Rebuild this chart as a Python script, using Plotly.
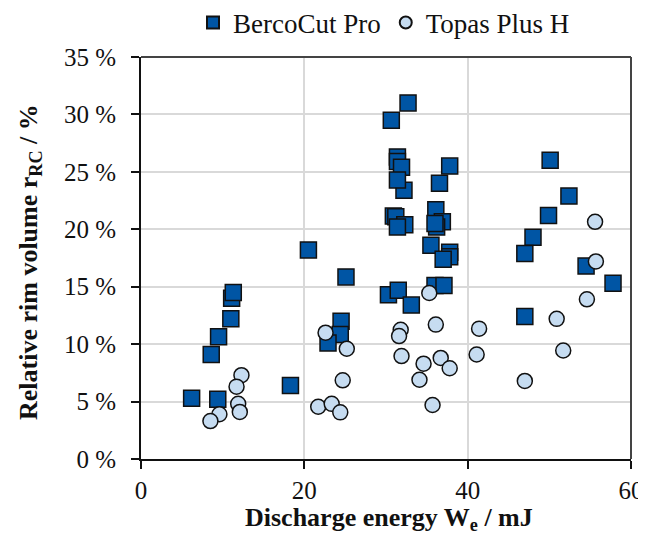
import plotly.graph_objects as go

berco_x = [6.2, 9.4, 8.6, 9.5, 11.0, 11.1, 11.3, 18.3, 20.5, 25.1, 24.5, 24.4, 22.9,
           30.3, 31.5, 33.1, 36.0, 37.1, 35.5, 37.8, 37.8, 37.0,
           30.9, 31.2, 32.3, 31.4, 36.1, 36.9, 36.2, 36.0, 32.2, 36.55,
           32.7, 30.65, 31.4, 31.4, 31.9, 31.4, 37.8,
           50.1, 52.4, 49.9, 48.0, 47.0, 54.5, 57.8, 47.0]
berco_y = [5.3, 5.2, 9.1, 10.65, 12.2, 14.0, 14.5, 6.4, 18.2, 15.85, 12.0, 10.85, 10.1,
           14.3, 14.7, 13.4, 15.1, 15.1, 18.6, 18.0, 17.6, 17.4,
           21.15, 21.1, 20.4, 20.2, 21.7, 20.65, 20.2, 20.5, 23.4, 24.0,
           31.0, 29.5, 26.3, 25.9, 25.4, 24.3, 25.5,
           26.0, 22.9, 21.2, 19.3, 17.9, 16.8, 15.3, 12.4]

topas_x = [12.3, 11.7, 11.9, 12.1, 9.6, 8.5, 22.6, 25.2, 24.7, 21.7, 23.35, 24.4,
           55.6, 55.7, 54.6, 50.9, 51.7, 47.0,
           35.3, 31.8, 31.6, 36.1, 41.4, 41.1, 31.9, 34.6, 36.7, 37.8, 34.1, 35.7]
topas_y = [7.3, 6.3, 4.8, 4.1, 3.9, 3.3, 11.0, 9.6, 6.85, 4.55, 4.8, 4.06,
           20.65, 17.2, 13.9, 12.2, 9.45, 6.8,
           14.45, 11.25, 10.7, 11.7, 11.35, 9.1, 8.96, 8.3, 8.8, 7.9, 6.9, 4.7]

y_ticks = [0, 5, 10, 15, 20, 25, 30, 35]
y_labels = [f"{v} %" for v in y_ticks]
x_ticks = [0, 20, 40, 60]

FONT = "Liberation Serif"
W, H = 646, 536
ML, MR, MT, MB = 133, 23, 49, 85
PW, PH = W - ML - MR, H - MT - MB
BOTTOM = H - MB

fig = go.Figure()
fig.add_trace(go.Scatter(
    x=berco_x, y=berco_y, mode="markers", name="BercoCut Pro",
    marker=dict(symbol="square", size=16, color="#0055A4",
                line=dict(color="#111111", width=1.5)),
))
fig.add_trace(go.Scatter(
    x=topas_x, y=topas_y, mode="markers", name="Topas Plus H",
    marker=dict(symbol="circle", size=15, color="#C6DCF1",
                line=dict(color="#111111", width=1.5)),
))

fig.update_layout(
    width=W, height=H,
    margin=dict(l=ML, r=MR, t=MT, b=MB, autoexpand=False),
    paper_bgcolor="white", plot_bgcolor="white",
    font=dict(family=FONT, size=25, color="#111111"),
    showlegend=True,
    legend=dict(orientation="h", x=(376 - ML) / PW, xanchor="center",
                y=(BOTTOM - 15) / PH, yanchor="middle",
                font=dict(family=FONT, size=27),
                itemsizing="constant", itemwidth=30, tracegroupgap=0,
                bgcolor="rgba(0,0,0,0)"),
    xaxis=dict(
        range=[0, 60], tickvals=x_ticks, ticktext=[str(v) for v in x_ticks],
        showgrid=True, gridcolor="#D9D9D9", gridwidth=1.5,
        showline=True, linecolor="#111111", linewidth=2, mirror=False,
        ticks="outside", ticklen=8, tickwidth=1.5, tickcolor="#111111",
        zeroline=False, automargin=False, ticklabelstandoff=0,
        tickfont=dict(family=FONT, size=25),
    ),
    yaxis=dict(
        range=[0, 35], tickvals=y_ticks, ticktext=y_labels,
        showgrid=True, gridcolor="#D9D9D9", gridwidth=1.5,
        showline=True, linecolor="#111111", linewidth=2, mirror=False,
        ticks="outside", ticklen=8, tickwidth=1.5, tickcolor="#111111",
        zeroline=False, automargin=False, ticklabelstandoff=10,
        tickfont=dict(family=FONT, size=25),
    ),
    shapes=[
        dict(type="line", xref="paper", yref="paper", x0=0, x1=1, y0=1, y1=1,
             line=dict(color="#444444", width=2)),
        dict(type="line", xref="paper", yref="paper", x0=1, x1=1, y0=0, y1=1,
             line=dict(color="#444444", width=2)),
    ],
    annotations=[
        dict(text="<b>Discharge energy W<sub>e</sub> / mJ</b>",
             xref="paper", yref="paper", x=(381 - ML) / PW, y=(BOTTOM - 511) / PH,
             xanchor="center", yanchor="middle", showarrow=False,
             font=dict(family=FONT, size=26)),
        dict(text="<b>Relative rim volume r<sub>RC</sub> / %</b>",
             xref="paper", yref="paper", x=(22 - ML) / PW, y=(BOTTOM - 254) / PH,
             xanchor="center", yanchor="middle", showarrow=False, textangle=-90,
             font=dict(family=FONT, size=26)),
    ],
)

fig.write_html("out.html")
